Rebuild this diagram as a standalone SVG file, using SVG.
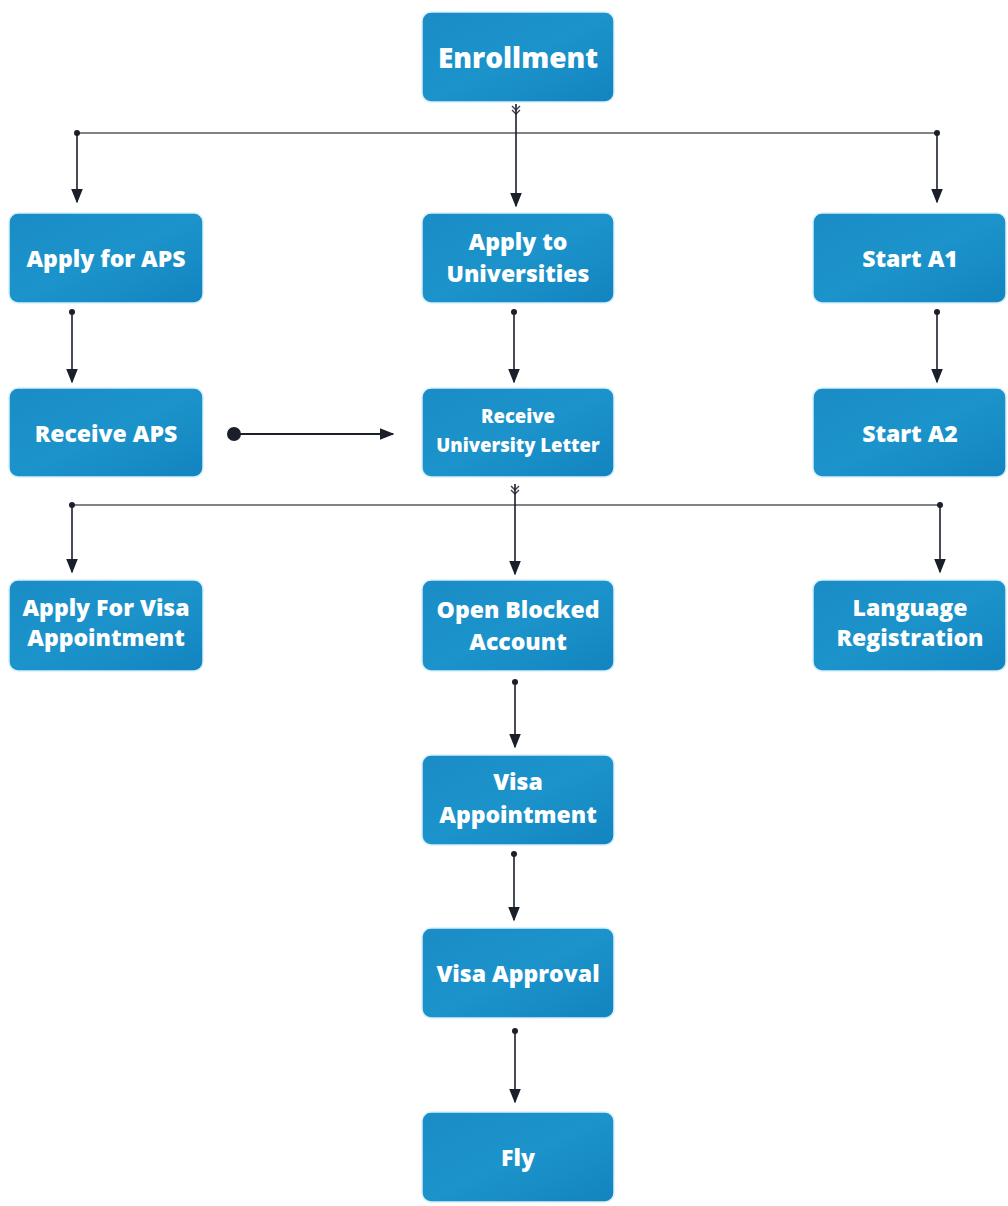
<svg xmlns="http://www.w3.org/2000/svg" width="1008" height="1206" viewBox="0 0 1008 1206">
<defs>
<linearGradient id="g" x1="0" y1="0" x2="1" y2="1">
<stop offset="0" stop-color="#1a8cc6"/>
<stop offset="0.5" stop-color="#1c93cb"/>
<stop offset="1" stop-color="#1284bf"/>
</linearGradient>
<marker id="arr" viewBox="0 0 10 10" refX="9" refY="5" markerWidth="15" markerHeight="15" orient="auto-start-reverse" markerUnits="userSpaceOnUse">
<path d="M0,1 L10,5 L0,9 z" fill="#1b1f2a"/>
</marker>
<marker id="dot" viewBox="0 0 10 10" refX="5" refY="5" markerWidth="6" markerHeight="6" markerUnits="userSpaceOnUse">
<circle cx="5" cy="5" r="5" fill="#1b1f2a"/>
</marker>
</defs>
<style>
.box{fill:url(#g);stroke:#d8f0fb;stroke-width:1.5}
.t{font-family:"Open Sans","Noto Sans","Liberation Sans",sans-serif;font-weight:800;fill:#ffffff;text-anchor:middle}
.c{fill:none;stroke:#1b1f2a;stroke-width:1.6}
.bus{fill:none;stroke:#555a62;stroke-width:1.6}
</style>
<rect width="1008" height="1206" fill="#ffffff"/>
<g id="connectors">
<path class="bus" d="M77,133 H937"/>
<path class="bus" d="M72,505 H940"/>
<path d="M512,106 L516,110 L520,106 M512,110 L516,114 L520,110" fill="none" stroke="#3a4050" stroke-width="1.4"/>
<path class="c" d="M516,104 V206" marker-end="url(#arr)"/>
<path class="c" d="M77,133 V202" marker-start="url(#dot)" marker-end="url(#arr)"/>
<path class="c" d="M937,133 V202" marker-start="url(#dot)" marker-end="url(#arr)"/>
<path class="c" d="M72,312 V382" marker-start="url(#dot)" marker-end="url(#arr)"/>
<path class="c" d="M514,312 V382" marker-start="url(#dot)" marker-end="url(#arr)"/>
<path class="c" d="M937,312 V382" marker-start="url(#dot)" marker-end="url(#arr)"/>
<circle cx="234" cy="434" r="7" fill="#1b1f2a"/>
<path d="M234,434 H393" stroke="#1b1f2a" stroke-width="1.8" fill="none" marker-end="url(#arr)"/>
<path d="M511,486 L515,490 L519,486 M511,490 L515,494 L519,490" fill="none" stroke="#3a4050" stroke-width="1.4"/>
<path class="c" d="M515,484 V574" marker-end="url(#arr)"/>
<path class="c" d="M72,505 V572" marker-start="url(#dot)" marker-end="url(#arr)"/>
<path class="c" d="M940,505 V572" marker-start="url(#dot)" marker-end="url(#arr)"/>
<path class="c" d="M515,682 V747" marker-start="url(#dot)" marker-end="url(#arr)"/>
<path class="c" d="M514,854 V920" marker-start="url(#dot)" marker-end="url(#arr)"/>
<path class="c" d="M515,1031 V1102" marker-start="url(#dot)" marker-end="url(#arr)"/>
</g>
<g id="enrollment"><rect class="box" x="422" y="12" width="192" height="90" rx="9"/><text class="t" x="518" y="68" font-size="28">Enrollment</text></g>
<g id="apply-aps"><rect class="box" x="9" y="213" width="194" height="90" rx="9"/><text class="t" x="106" y="267" font-size="23">Apply for APS</text></g>
<g id="apply-universities"><rect class="box" x="422" y="213" width="192" height="90" rx="9"/><text class="t" x="518" y="250" font-size="23">Apply to</text><text class="t" x="518" y="282" font-size="23">Universities</text></g>
<g id="start-a1"><rect class="box" x="813" y="213" width="193" height="90" rx="9"/><text class="t" x="910" y="267" font-size="23">Start A1</text></g>
<g id="receive-aps"><rect class="box" x="9" y="388" width="194" height="89" rx="9"/><text class="t" x="106" y="442" font-size="23">Receive APS</text></g>
<g id="receive-letter"><rect class="box" x="422" y="388" width="192" height="89" rx="9"/><text class="t" x="518" y="423" font-size="18.5">Receive</text><text class="t" x="518" y="452" font-size="18.5">University Letter</text></g>
<g id="start-a2"><rect class="box" x="813" y="388" width="193" height="89" rx="9"/><text class="t" x="910" y="442" font-size="23">Start A2</text></g>
<g id="apply-visa"><rect class="box" x="9" y="580" width="194" height="91" rx="9"/><text class="t" x="106" y="616" font-size="23">Apply For Visa</text><text class="t" x="106" y="646" font-size="23">Appointment</text></g>
<g id="blocked-account"><rect class="box" x="422" y="580" width="192" height="91" rx="9"/><text class="t" x="518" y="618" font-size="23">Open Blocked</text><text class="t" x="518" y="650" font-size="23">Account</text></g>
<g id="language"><rect class="box" x="813" y="580" width="193" height="91" rx="9"/><text class="t" x="910" y="616" font-size="23">Language</text><text class="t" x="910" y="646" font-size="23">Registration</text></g>
<g id="visa-appointment"><rect class="box" x="422" y="755" width="192" height="90" rx="9"/><text class="t" x="518" y="790" font-size="23">Visa</text><text class="t" x="518" y="823" font-size="23">Appointment</text></g>
<g id="visa-approval"><rect class="box" x="422" y="928" width="192" height="90" rx="9"/><text class="t" x="518" y="982" font-size="23">Visa Approval</text></g>
<g id="fly"><rect class="box" x="422" y="1112" width="192" height="90" rx="9"/><text class="t" x="518" y="1166" font-size="23">Fly</text></g>
</svg>
